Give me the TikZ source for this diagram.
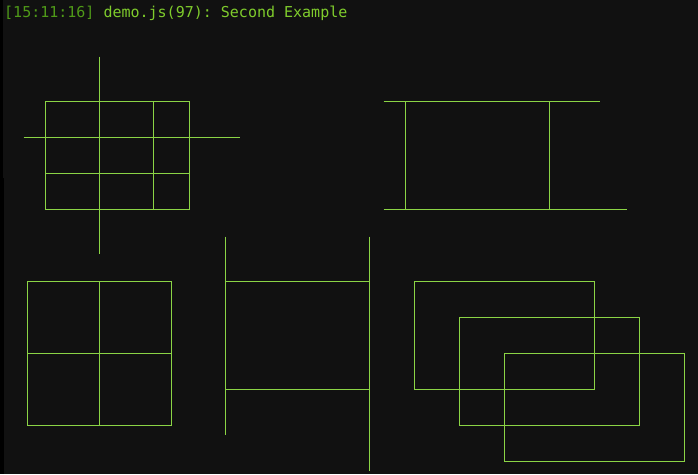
\documentclass[tikz,border=0pt]{standalone}
\usepackage{fontspec}
\setmonofont{DejaVu Sans Mono}
\definecolor{fond}{HTML}{111111}
\definecolor{vert}{HTML}{8BD445}
\definecolor{vertclair}{HTML}{7FCC2C}
\definecolor{vertsombre}{HTML}{4F9A18}
\begin{document}
\begin{tikzpicture}[x=1pt,y=-1pt,trait/.style={vert,line width=1pt}]
	% le fond
	\fill[fond] (0,0) rectangle (698,474);
	\useasboundingbox (0,0) rectangle (698,474);
	\fill[black] (0,0) rectangle (3,474);
	\fill[black] (0,178) rectangle (4,474);
	\node[anchor=base west,inner sep=0pt,font=\ttfamily\fontsize{15}{15}\selectfont] (titre) at (4,17.5) {\textcolor{vertsombre}{[15:11:16]} \textcolor{vertclair}{demo.js(97): Second Example}};
	\begin{scope}[xshift=0.5pt,yshift=-0.5pt]
	% la grille et la croix
	\draw[trait] (45,101) rectangle (189,209);
	\draw[trait] (99,56) -- (99,253);
	\draw[trait] (23,137) -- (239,137);
	\draw[trait] (153,101) -- (153,209);
	\draw[trait] (45,173) -- (189,173);
	% le cadre en haut a droite
	\draw[trait] (383,101) -- (599,101);
	\draw[trait] (383,209) -- (626,209);
	\draw[trait] (405,101) -- (405,209);
	\draw[trait] (549,101) -- (549,209);
	% le carre
	\draw[trait] (27,281) rectangle (171,425);
	\draw[trait] (99,281) -- (99,425);
	\draw[trait] (27,353) -- (171,353);
	% l'echelle
	\draw[trait] (225,236) -- (225,434);
	\draw[trait] (369,236) -- (369,470);
	\draw[trait] (225,281) -- (369,281);
	\draw[trait] (225,389) -- (369,389);
	% les trois rectangles
	\draw[trait] (414,281) rectangle (594,389);
	\draw[trait] (459,317) rectangle (639,425);
	\draw[trait] (504,353) rectangle (684,461);
	\end{scope}
\end{tikzpicture}
\end{document}
